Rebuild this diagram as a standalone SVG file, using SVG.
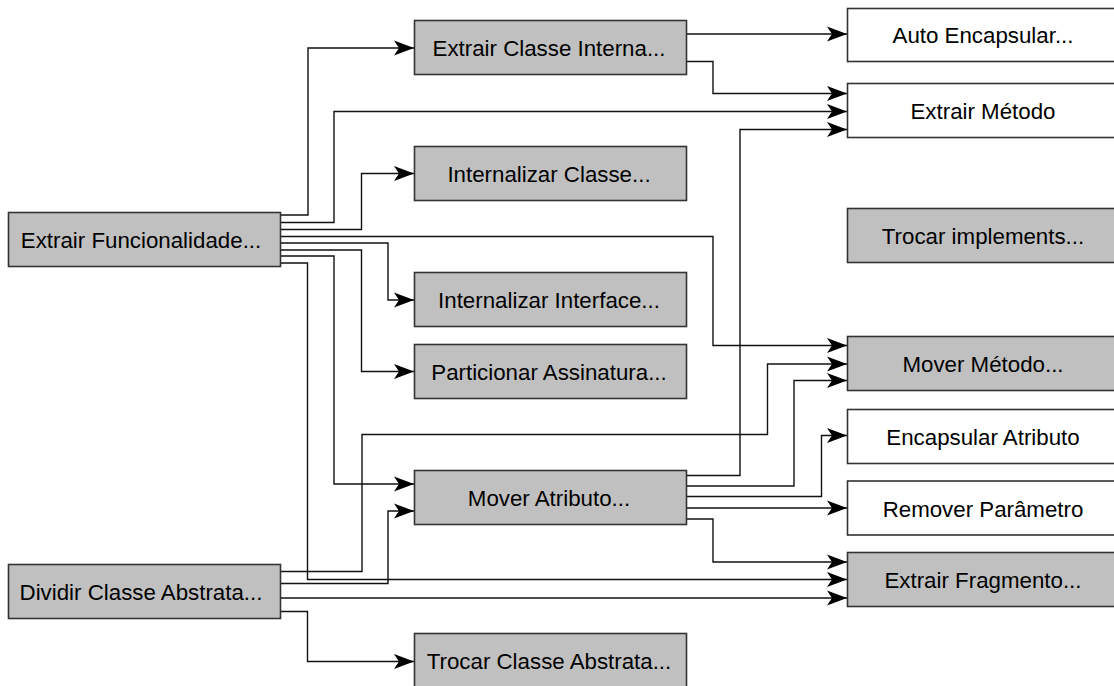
<svg xmlns="http://www.w3.org/2000/svg" width="1114" height="686" viewBox="0 0 1114 686">
  <style>
    .node rect { stroke: #333; stroke-width: 1.6; }
    .gray rect { fill: #c0c0c0; }
    .white rect { fill: #ffffff; }
    .node text { font-family: "Liberation Sans", Arial, sans-serif; font-size: 22.3px; fill: #000; text-anchor: middle; }
    .edges path { fill: none; stroke: #111; stroke-width: 1.4; marker-end: url(#arrow); }
  </style>
  <defs>
    <marker id="arrow" markerUnits="userSpaceOnUse" markerWidth="24" markerHeight="18" viewBox="-22 -9 24 18" refX="0" refY="0" orient="auto">
      <path d="M0,0 L-20,-7.5 L-15,0 L-20,7.5 Z" fill="#000"/>
    </marker>
  </defs>
  <rect width="1114" height="686" fill="#fff"/>

  <!-- connectors -->
  <g id="edges" class="edges">
    <path d="M281,215 H308 V48 H414"/>
    <path d="M281,222.5 H334 V111.5 H847"/>
    <path d="M281,229.5 H361.5 V173.5 H414"/>
    <path d="M281,236.5 H713 V345.5 H847"/>
    <path d="M281,243 H388 V300 H414"/>
    <path d="M281,250 H361.5 V371.5 H414"/>
    <path d="M281,256 H334 V484 H414"/>
    <path d="M281,263 H307.5 V579.5 H847"/>
    <path d="M687,34 H847"/>
    <path d="M687,61.5 H713 V93.5 H847"/>
    <path d="M687,475.5 H740 V129.5 H847"/>
    <path d="M687,486 H794 V380.5 H847"/>
    <path d="M687,496.5 H821.5 V435.5 H847"/>
    <path d="M687,508 H847"/>
    <path d="M687,519 H713 V562 H847"/>
    <path d="M281,571.5 H362 V434.5 H767.5 V364 H847"/>
    <path d="M281,583.5 H388 V511 H414"/>
    <path d="M281,598 H847"/>
    <path d="M281,611.5 H307.5 V661.5 H414"/>
  </g>

  <!-- left column -->
  <g id="extrair-funcionalidade" class="node gray">
    <rect x="8.5" y="212.5" width="272" height="54"/>
    <text x="141" y="248">Extrair Funcionalidade...</text>
  </g>
  <g id="dividir-classe-abstrata" class="node gray">
    <rect x="8.5" y="564.5" width="272" height="54"/>
    <text x="141" y="600">Dividir Classe Abstrata...</text>
  </g>

  <!-- middle column -->
  <g id="extrair-classe-interna" class="node gray">
    <rect x="414.5" y="20.5" width="272" height="54"/>
    <text x="549" y="56">Extrair Classe Interna...</text>
  </g>
  <g id="internalizar-classe" class="node gray">
    <rect x="414.5" y="146.5" width="272" height="54"/>
    <text x="549" y="182">Internalizar Classe...</text>
  </g>
  <g id="internalizar-interface" class="node gray">
    <rect x="414.5" y="272.5" width="272" height="54"/>
    <text x="549" y="308">Internalizar Interface...</text>
  </g>
  <g id="particionar-assinatura" class="node gray">
    <rect x="414.5" y="344.5" width="272" height="54"/>
    <text x="549" y="380">Particionar Assinatura...</text>
  </g>
  <g id="mover-atributo" class="node gray">
    <rect x="414.5" y="470.5" width="272" height="54"/>
    <text x="549" y="506">Mover Atributo...</text>
  </g>
  <g id="trocar-classe-abstrata" class="node gray">
    <rect x="414.5" y="633.5" width="272" height="54"/>
    <text x="549" y="669">Trocar Classe Abstrata...</text>
  </g>

  <!-- right column -->
  <g id="auto-encapsular" class="node white">
    <rect x="847.5" y="8.5" width="280" height="53"/>
    <text x="983" y="43">Auto Encapsular...</text>
  </g>
  <g id="extrair-metodo" class="node white">
    <rect x="847.5" y="83.5" width="280" height="54"/>
    <text x="983" y="119">Extrair Método</text>
  </g>
  <g id="trocar-implements" class="node gray">
    <rect x="847.5" y="208.5" width="280" height="54"/>
    <text x="983" y="244">Trocar implements...</text>
  </g>
  <g id="mover-metodo" class="node gray">
    <rect x="847.5" y="336.5" width="280" height="54"/>
    <text x="983" y="372">Mover Método...</text>
  </g>
  <g id="encapsular-atributo" class="node white">
    <rect x="847.5" y="409.5" width="280" height="54"/>
    <text x="983" y="445">Encapsular Atributo</text>
  </g>
  <g id="remover-parametro" class="node white">
    <rect x="847.5" y="481" width="280" height="54"/>
    <text x="983" y="516.5">Remover Parâmetro</text>
  </g>
  <g id="extrair-fragmento" class="node gray">
    <rect x="847.5" y="552.5" width="280" height="54"/>
    <text x="983" y="588">Extrair Fragmento...</text>
  </g>
</svg>
